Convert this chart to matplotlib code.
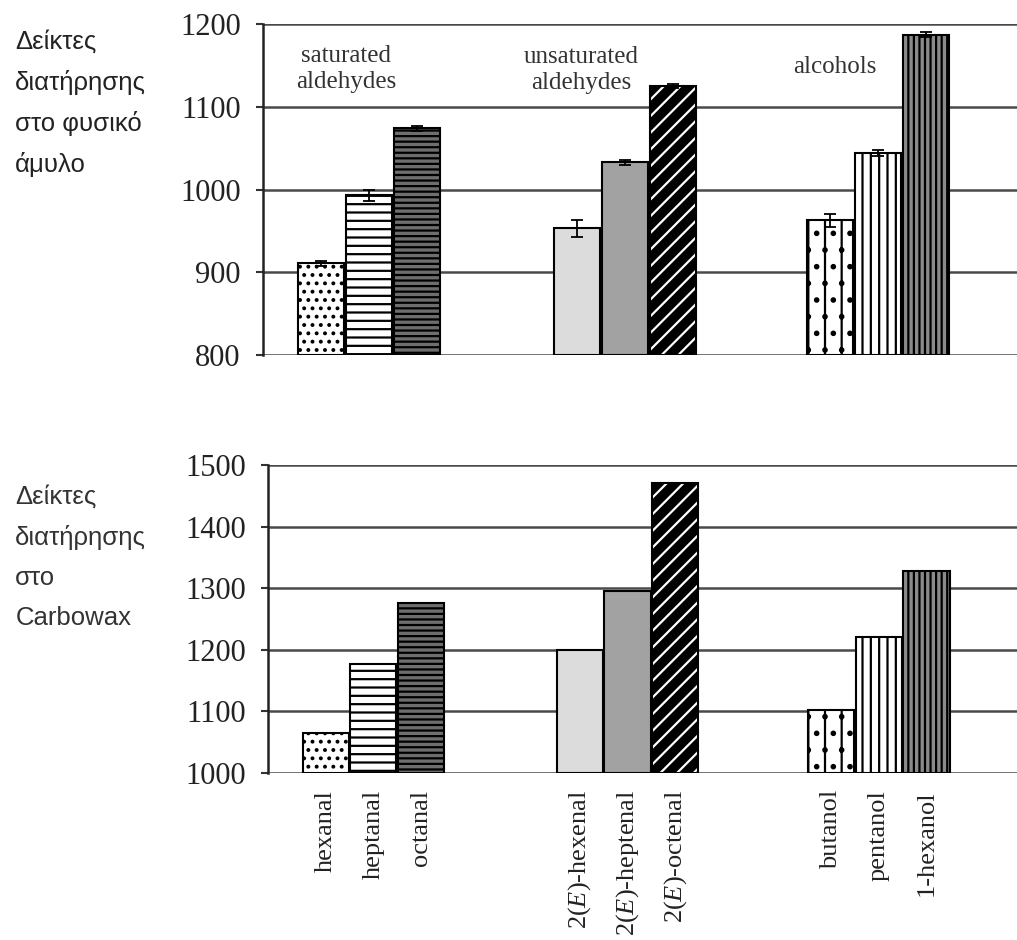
import matplotlib
matplotlib.use("Agg")
import matplotlib.pyplot as plt
import numpy as np

# Compounds, grouped by chemical class
compounds = ["hexanal", "heptanal", "octanal",
             "2$\\mathit{(E)}$-hexenal", "2$\\mathit{(E)}$-heptenal", "2$\\mathit{(E)}$-octenal",
             "butanol", "pentanol", "1-hexanol"]
groups = ["saturated\naldehydes", "unsaturated\naldehydes", "alcohols"]

# Retention indices on native starch (with standard deviation)
starch_ri = [911, 993, 1074, 953, 1033, 1125, 963, 1044, 1187]
starch_err = [3, 7, 3, 10, 3, 2, 8, 4, 3]

# Retention indices on Carbowax
carbowax_ri = [1065, 1177, 1276, 1200, 1295, 1470, 1102, 1220, 1328]

starch_ticks = [800, 900, 1000, 1100, 1200]
carbowax_ticks = [1000, 1100, 1200, 1300, 1400, 1500]

plt.rcParams["mathtext.fontset"] = "custom"
plt.rcParams["mathtext.rm"] = "Liberation Serif"
plt.rcParams["mathtext.it"] = "Liberation Serif:italic"
plt.rcParams["hatch.linewidth"] = 1.6

SERIF = "Liberation Serif"
SANS = "Liberation Sans"

# bar positions: three groups of three touching bars
pos = np.array([0, 1, 2, 5.33, 6.33, 7.33, 10.6, 11.6, 12.6])
width = 0.97
xlim = (-1.21, 14.5)

# fill styles: (facecolor, edgecolor for hatch, hatch)
styles = [
    ("white", "black", ".."),
    ("white", "black", "--"),
    ("#6e6e6e", "black", "---"),
    ("#dcdcdc", "black", None),
    ("#a2a2a2", "black", None),
    ("black", "white", "//"),
    ("white", "black", ".|"),
    ("white", "black", "||"),
    ("#8a8a8a", "black", "|||"),
]

fig = plt.figure(figsize=(10.17, 9.40), dpi=100)
ax1 = fig.add_axes([0.2586, 0.6223, 0.7414, 0.3522])
ax2 = fig.add_axes([0.2635, 0.1777, 0.7365, 0.3276])


def draw_bars(ax, values, err=None):
    base = ax.get_ylim()[0]
    for i, (x, v) in enumerate(zip(pos, values)):
        fc, hc, hatch = styles[i]
        ax.bar(x, v - base, bottom=base, width=width, color=fc,
               edgecolor=hc, hatch=hatch, linewidth=0, zorder=3)
        ax.bar(x, v - base, bottom=base, width=width, fill=False,
               edgecolor="black", linewidth=1.5, zorder=4)
    if err is not None:
        ax.errorbar(pos, values, yerr=err, fmt="none", ecolor="black",
                    elinewidth=1.3, capsize=4, capthick=1.3, zorder=5)


def style_axis(ax, ticks):
    ax.set_xlim(*xlim)
    ax.set_ylim(ticks[0], ticks[-1])
    ax.set_yticks(ticks)
    ax.set_yticklabels([str(t) for t in ticks], fontfamily=SERIF, fontsize=22,
                       color="#222222")
    ax.tick_params(axis="y", length=5, width=1.5, pad=11, color="#333333")
    ax.yaxis.grid(True, color="#4a4a4a", linewidth=1.8, zorder=1)
    ax.set_axisbelow(True)
    for s in ["top", "right", "bottom"]:
        ax.spines[s].set_visible(False)
    ax.spines["left"].set_linewidth(1.8)
    ax.spines["left"].set_color("#222222")
    ax.set_xticks([])


style_axis(ax1, starch_ticks)
draw_bars(ax1, starch_ri, starch_err)
style_axis(ax2, carbowax_ticks)
draw_bars(ax2, carbowax_ri)

# group captions in the upper panel
group_x = [0.52, 5.43, 10.7]
group_y = [0.865, 0.86, 0.87]
for gx, gy, g in zip(group_x, group_y, groups):
    ax1.text(gx, ax1.get_ylim()[0] + gy * 400, g, ha="center", va="center",
             fontfamily=SERIF, fontsize=18, color="#333333", linespacing=1.25,
             zorder=6)

# compound names below the lower panel
label_y = 1000 - 17 / 61.7 * 100
for x, name in zip(pos, compounds):
    ax2.text(x, label_y, name, rotation=90, ha="center", va="top",
             fontfamily=SERIF, fontsize=19, color="#222222")

# Greek side labels
fig.text(0.015, 1 - 30 / 940, "Δείκτες\nδιατήρησης\nστο φυσικό\nάμυλο",
         ha="left", va="top", fontfamily=SANS, fontsize=18.5, linespacing=1.8,
         color="#222222")
fig.text(0.015, 1 - 485 / 940, "Δείκτες\nδιατήρησης\nστο\nCarbowax",
         ha="left", va="top", fontfamily=SANS, fontsize=18.5, linespacing=1.82,
         color="#333333")

fig.savefig("out.png", dpi=100, facecolor="white")
